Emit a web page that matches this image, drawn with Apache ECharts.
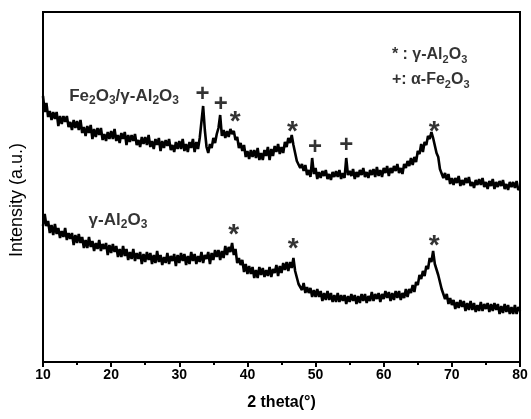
<!DOCTYPE html>
<html>
<head>
<meta charset="utf-8">
<script src="https://cdn.jsdelivr.net/npm/echarts@6/dist/echarts.min.js"></script>
<style>
  html, body { margin: 0; padding: 0; background: #fff; }
  #chart { width: 531px; height: 419px; }
</style>
</head>
<body>
<div id="chart"></div>
<script>
// XRD scan grid: 10° to 80° 2θ, 0.25° per step
const angleStart = 10;
const angleStep = 0.25;

// Fe2O3/γ-Al2O3 pattern (upper trace), arbitrary units
const feAlIntensity = [
  266,250,259,245, 251,242,250,243, 250,236,246,238, 246,240,246,235, 240,232,242,234,
  241,232,242,229, 235,226,236,229, 237,223,233,225, 234,227,234,222, 228,221,230,223,
  231,223,233,221, 227,219,229,223, 230,217,227,220, 227,221,228,217, 222,215,225,218,
  225,217,227,215, 221,213,223,217, 224,211,221,214, 222,216,223,212, 217,210,220,213,
  221,213,223,211, 218,210,220,214, 223,210,220,213, 224,226,256,232, 215,209,218,214,
  224,219,228,234, 247,226,232,224, 231,225,233,228, 231,222,225,214, 219,211,217,205,
  211,203,212,205, 212,204,214,202, 209,202,212,206, 215,202,213,206, 216,210,218,208,
  215,209,220,215, 224,219,227,217, 215,201,202,194, 198,191,197,187, 192,185,204,188,
  194,183,190,184, 191,186,192,183, 188,182,190,185, 191,185,192,183, 189,184,204,187,
  191,186,193,183, 190,185,192,187, 194,185,190,184, 192,187,193,185, 195,186,192,185,
  194,189,196,186, 194,189,196,191, 198,189,194,188, 198,194,201,196, 204,197,205,200,
  211,208,218,210, 220,217,226,223, 230,224,222,209, 205,193,192,184, 189,182,188,178,
  184,177,184,179, 186,176,182,177, 184,179,185,176, 180,174,182,177, 183,177,184,175,
  180,173,181,176, 183,173,180,175, 181,176,182,173, 178,172,180,175, 180,174,181,172,
  175
];

// γ-Al2O3 pattern (lower trace), arbitrary units
const alIntensity = [
  136,148,136,141, 129,137,127,138, 128,134,124,131, 125,134,122,129, 123,129,117,127,
  119,128,119,125, 114,122,114,125, 115,121,111,119, 113,122,111,118, 113,119,107,117,
  109,118,110,116, 105,113,105,116, 106,113,102,110, 103,113,101,109, 103,110,98,108,
  100,110,102,109, 98,107,99,111, 100,107,97,105, 99,109,98,106, 101,108,96,107,
  99,109,101,108, 97,106,98,110, 101,108,98,106, 100,110,99,107, 103,110,98,109,
  102,112,105,112, 102,111,104,116, 107,115,110,119, 107,113,99,104, 97,102,90,98,
  88,96,88,95, 84,92,84,95, 87,94,85,92, 86,95,85,93, 89,97,86,96,
  89,99,92,100, 91,100,94,104, 91,92,78,80, 72,79,69,75, 69,74,65,72,
  65,73,65,71, 61,69,62,71, 62,69,60,67, 60,69,60,67, 61,67,58,66,
  60,68,61,67, 58,66,59,68, 61,68,59,66, 61,70,61,68, 63,69,60,68,
  63,71,64,70, 61,69,62,71, 64,71,62,69, 64,73,65,73, 69,77,70,80,
  77,87,83,91, 86,96,93,104, 100,111,98,99, 87,88,73,74, 63,68,58,64,
  57,62,53,60, 54,62,55,61, 51,59,52,61, 52,59,50,57, 51,60,51,58,
  53,59,50,58, 51,59,52,58, 48,56,49,58, 50,57,48,55, 48,57,48,55,
  51
];

// Axis ticks
const xTicks = [10, 20, 30, 40, 50, 60, 70, 80];

// Reflection markers: [2θ, height]
const hematiteMarks = [[33.4, 268], [36.1, 258], [49.9, 215], [54.5, 217]];
const aluminaMarksUpper = [[38.2, 247], [46.6, 237], [67.4, 237]];
const aluminaMarksLower = [[38.0, 134], [46.7, 120], [67.4, 123]];

// Text notes: [2θ, height, rich text]
const sampleNotes = [
  [21.9, 261, '{n|Fe}{s|2}{n|O}{s|3}{n|/γ-Al}{s|2}{n|O}{s|3}'],
  [21.0, 137, '{n|γ-Al}{s|2}{n|O}{s|3}']
];
const keyNotes = [
  [61.2, 302, '{n|* : γ-Al}{s|2}{n|O}{s|3}'],
  [61.2, 277, '{n|+: α-Fe}{s|2}{n|O}{s|3}']
];

const FONT = '"Liberation Sans", Arial, Helvetica, sans-serif';

function toPairs(values) {
  return values.map((v, i) => [angleStart + i * angleStep, v]);
}

function richStyles(size) {
  return {
    n: { fontSize: size, lineHeight: size, verticalAlign: 'top', color: '#000', fontFamily: FONT, fontWeight: 'bold' },
    s: { fontSize: Math.round(size * 0.68), lineHeight: size + 10, color: '#000', fontFamily: FONT, fontWeight: 'bold' }
  };
}

function noteSeries(notes, align, size) {
  return {
    type: 'scatter',
    symbolSize: 0,
    silent: true,
    z: 5,
    itemStyle: { color: '#000' },
    data: notes.map(n => ({
      value: [n[0], n[1]],
      label: {
        show: true,
        position: 'inside',
        align: align,
        verticalAlign: 'middle',
        color: '#000',
        textBorderWidth: 0,
        formatter: n[2],
        rich: richStyles(size)
      }
    }))
  };
}

function glyphSeries(marks, glyph, size, dy) {
  return {
    type: 'scatter',
    symbolSize: 0,
    silent: true,
    z: 5,
    itemStyle: { color: '#000' },
    data: marks,
    label: {
      show: true,
      position: 'inside',
      formatter: glyph,
      color: '#000',
      textBorderWidth: 0,
      fontFamily: FONT,
      fontWeight: 'bold',
      fontSize: size,
      offset: [0, dy]
    }
  };
}

const chart = echarts.init(document.getElementById('chart'), null, { renderer: 'canvas' });
chart.setOption({
  animation: false,
  backgroundColor: '#fff',
  grid: {
    left: 43, right: 11, top: 12, bottom: 57,
    show: true, borderColor: '#000', borderWidth: 2, backgroundColor: 'transparent'
  },
  xAxis: {
    type: 'value',
    min: xTicks[0],
    max: xTicks[xTicks.length - 1],
    interval: 10,
    name: '2 theta(°)',
    nameLocation: 'middle',
    nameGap: 33,
    nameTextStyle: { fontFamily: FONT, fontWeight: 'bold', fontSize: 16, color: '#000' },
    axisLine: { show: true, onZero: false, lineStyle: { color: '#000', width: 2 } },
    axisTick: { show: true, inside: false, length: 5, lineStyle: { color: '#000', width: 2 } },
    minorTick: { show: true, splitNumber: 2, length: 3, lineStyle: { color: '#000', width: 2 } },
    splitLine: { show: false },
    axisLabel: { fontFamily: FONT, fontWeight: 'bold', fontSize: 14, color: '#000', margin: 6 }
  },
  yAxis: {
    type: 'value',
    min: 0,
    max: 350,
    name: 'Intensity (a.u.)',
    nameLocation: 'middle',
    nameRotate: 90,
    nameGap: 17,
    nameTextStyle: { fontFamily: FONT, fontSize: 18, color: '#000', padding: [0, 26, 0, 0] },
    axisLine: { show: true, onZero: false, lineStyle: { color: '#000', width: 2 } },
    axisTick: { show: false },
    axisLabel: { show: false },
    splitLine: { show: false }
  },
  series: [
    {
      type: 'line', data: toPairs(feAlIntensity), showSymbol: false, symbol: 'none',
      lineStyle: { color: '#000', width: 2.6 }, z: 2
    },
    {
      type: 'line', data: toPairs(alIntensity), showSymbol: false, symbol: 'none',
      lineStyle: { color: '#000', width: 2.6 }, z: 2
    },
    glyphSeries(hematiteMarks, '+', 24, 0),
    glyphSeries(aluminaMarksUpper, '*', 28, 7),
    glyphSeries(aluminaMarksLower, '*', 28, 7),
    noteSeries(sampleNotes, 'center', 17),
    noteSeries(keyNotes, 'left', 16)
  ]
});
</script>
</body>
</html>
